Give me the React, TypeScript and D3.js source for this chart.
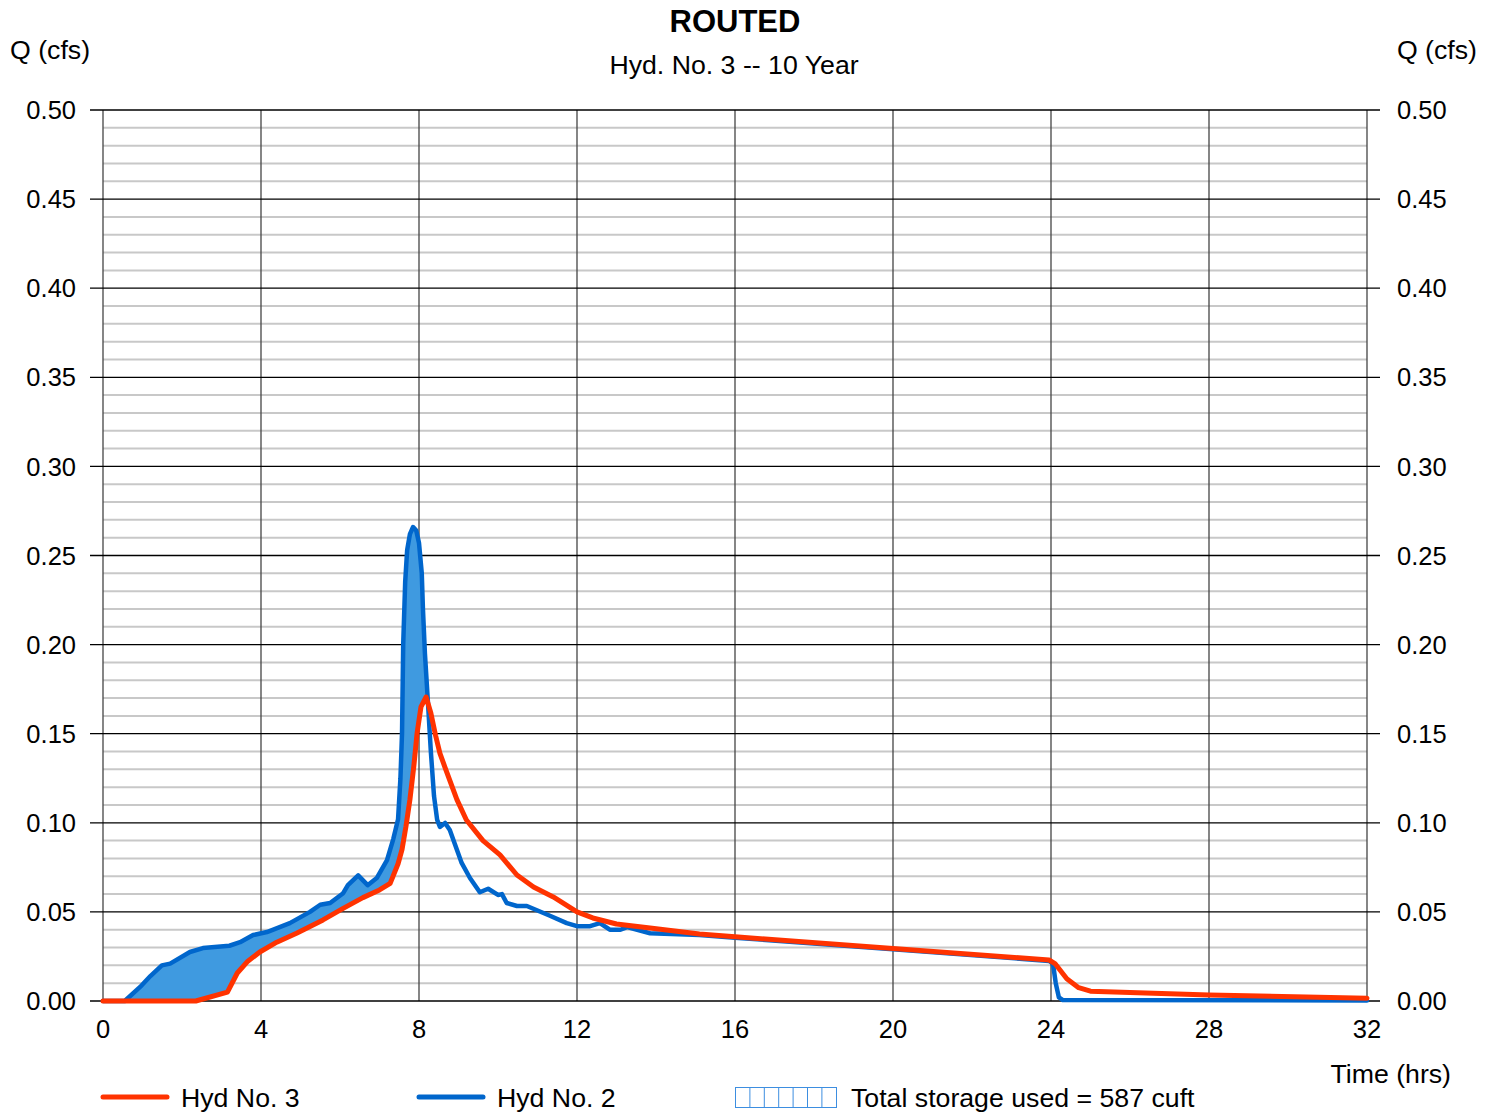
import React from "react";
import * as d3 from "d3";

// Hyd No. 2 (inflow) - time (hrs), Q (cfs)
const hyd2Time = [0, 0.55, 0.94, 1.2, 1.49, 1.7, 2.2, 2.53, 3.2, 3.47, 3.8, 4.15, 4.73, 5.24, 5.5, 5.75, 6.08, 6.2, 6.46, 6.7, 6.93, 7.19, 7.35, 7.47, 7.53, 7.57, 7.6, 7.65, 7.7, 7.77, 7.85, 7.93, 8.0, 8.07, 8.1, 8.15, 8.22, 8.3, 8.38, 8.46, 8.53, 8.66, 8.78, 9.08, 9.29, 9.54, 9.75, 10.0, 10.1, 10.22, 10.48, 10.73, 11.3, 11.74, 12.0, 12.33, 12.58, 12.83, 13.1, 13.27, 13.85, 15.1, 16, 20, 23.95, 24.05, 24.12, 24.2, 24.3, 32];
const hyd2Q = [0, 0, 0.0079, 0.014, 0.02, 0.021, 0.0275, 0.0297, 0.031, 0.033, 0.037, 0.0387, 0.0437, 0.05, 0.054, 0.055, 0.0605, 0.065, 0.0705, 0.065, 0.069, 0.079, 0.091, 0.102, 0.125, 0.15, 0.2, 0.235, 0.253, 0.262, 0.266, 0.264, 0.257, 0.24, 0.22, 0.195, 0.17, 0.14, 0.115, 0.1016, 0.0977, 0.0999, 0.096, 0.0775, 0.069, 0.061, 0.063, 0.0595, 0.06, 0.055, 0.0533, 0.0533, 0.048, 0.0437, 0.042, 0.042, 0.0437, 0.04, 0.04, 0.0415, 0.038, 0.037, 0.0355, 0.029, 0.0225, 0.021, 0.01, 0.002, 0.0005, 0.0003];

// Hyd No. 3 (routed outflow)
const hyd3Time = [0, 2.35, 3.15, 3.4, 3.65, 3.97, 4.4, 4.9, 5.57, 6.08, 6.58, 7.0, 7.27, 7.47, 7.57, 7.67, 7.77, 7.87, 7.95, 8.05, 8.18, 8.3, 8.42, 8.53, 8.66, 8.96, 9.2, 9.62, 10.05, 10.48, 10.9, 11.4, 12.0, 12.4, 13.0, 13.85, 15.1, 16, 20, 23.95, 24.1, 24.4, 24.7, 25.0, 28, 32];
const hyd3Q = [0, 0, 0.005, 0.0157, 0.022, 0.0275, 0.033, 0.038, 0.0455, 0.052, 0.058, 0.0623, 0.066, 0.077, 0.085, 0.098, 0.113, 0.132, 0.15, 0.165, 0.1706, 0.1616, 0.149, 0.139, 0.131, 0.113, 0.1016, 0.09, 0.082, 0.0707, 0.064, 0.0584, 0.05, 0.0466, 0.0432, 0.041, 0.0376, 0.036, 0.0295, 0.023, 0.021, 0.0125, 0.0075, 0.0055, 0.0034, 0.0016];

const xTicks = [0, 4, 8, 12, 16, 20, 24, 28, 32];
const yTicks = [0, 0.05, 0.1, 0.15, 0.2, 0.25, 0.3, 0.35, 0.4, 0.45, 0.5];
const minorStep = 0.01;

const W = 1496, H = 1112;
const FONT = "'Liberation Sans', Arial, sans-serif";

function interp(ts: number[], qs: number[], t: number) {
  if (t <= ts[0]) return qs[0];
  for (let i = 1; i < ts.length; i++) {
    if (t <= ts[i]) {
      const f = (t - ts[i - 1]) / (ts[i] - ts[i - 1]);
      return qs[i - 1] + f * (qs[i] - qs[i - 1]);
    }
  }
  return qs[qs.length - 1];
}

export default function App() {
  const x = d3.scaleLinear().domain([0, 32]).range([103, 1367]);
  const y = d3.scaleLinear().domain([0, 0.5]).range([1001, 110]);

  const hyd2 = hyd2Time.map((t, i) => [t, hyd2Q[i]] as [number, number]);
  const hyd3 = hyd3Time.map((t, i) => [t, hyd3Q[i]] as [number, number]);

  const line = d3.line<[number, number]>().x(d => x(d[0])).y(d => y(d[1]));

  // storage: region where inflow exceeds outflow
  const allT = Array.from(new Set([...hyd2Time, ...hyd3Time])).sort((a, b) => a - b).filter(t => t <= 12);
  const storage = allT.map(t => {
    const a = interp(hyd2Time, hyd2Q, t);
    const b = interp(hyd3Time, hyd3Q, t);
    return { t, hi: a, lo: Math.min(a, b) };
  });
  const area = d3.area<{ t: number; hi: number; lo: number }>()
    .x(d => x(d.t)).y0(d => y(d.lo)).y1(d => y(d.hi));

  const minor = d3.range(0, 0.5 + 1e-9, minorStep).filter(v => Math.abs(Math.round(v * 20) - v * 20) > 1e-6);

  return (
    <svg width={W} height={H} style={{ position: "absolute", left: 0, top: 0, background: "#fff" }} fontFamily={FONT}>
      {/* minor horizontal grid */}
      {minor.map(v => (
        <line key={"m" + v} x1={103} x2={1367} y1={y(v)} y2={y(v)} stroke="#c8c8c8" strokeWidth={2} />
      ))}
      {/* vertical grid */}
      {xTicks.map(t => (
        <line key={"v" + t} x1={x(t)} x2={x(t)} y1={110} y2={1001} stroke="#444" strokeWidth={1.3} />
      ))}
      {/* major horizontal grid */}
      {yTicks.map(v => (
        <line key={"h" + v} x1={90} x2={1380} y1={y(v)} y2={y(v)} stroke="#000" strokeWidth={1.3} />
      ))}

      <path d={area(storage) || ""} fill="#3f9ae0" />
      <path d={line(hyd2) || ""} fill="none" stroke="#0066cc" strokeWidth={4.5} strokeLinejoin="round" strokeLinecap="round" />
      <path d={line(hyd3) || ""} fill="none" stroke="#ff3300" strokeWidth={5} strokeLinejoin="round" strokeLinecap="round" />

      {/* y labels */}
      {yTicks.map(v => (
        <g key={"yl" + v} fontSize={25.5} fill="#000">
          <text x={76} y={y(v)} dy="0.36em" textAnchor="end">{v.toFixed(2)}</text>
          <text x={1397} y={y(v)} dy="0.36em" textAnchor="start">{v.toFixed(2)}</text>
        </g>
      ))}
      {/* x labels */}
      {xTicks.map(t => (
        <text key={"xl" + t} x={x(t)} y={1038} fontSize={25.5} textAnchor="middle">{t}</text>
      ))}

      <text x={735} y={32} fontSize={31} fontWeight="bold" textAnchor="middle">ROUTED</text>
      <text x={734} y={74} fontSize={26.7} textAnchor="middle">Hyd. No. 3 -- 10 Year</text>
      <text x={10} y={59} fontSize={26.7}>Q (cfs)</text>
      <text x={1477} y={59} fontSize={26.7} textAnchor="end">Q (cfs)</text>
      <text x={1451} y={1083} fontSize={26.7} textAnchor="end">Time (hrs)</text>

      {/* legend */}
      <line x1={103} x2={167} y1={1097} y2={1097} stroke="#ff3300" strokeWidth={5} strokeLinecap="round" />
      <text x={181} y={1107} fontSize={26.7}>Hyd No. 3</text>
      <line x1={419} x2={483} y1={1097} y2={1097} stroke="#0066cc" strokeWidth={5} strokeLinecap="round" />
      <text x={497} y={1107} fontSize={26.7}>Hyd No. 2</text>
      <rect x={735.5} y={1087.5} width={101} height={20} fill="none" stroke="#3d8ee0" strokeWidth={1} />
      {d3.range(1, 7).map(i => (
        <line key={"hb" + i} x1={735.5 + i * 14.4} x2={735.5 + i * 14.4} y1={1087.5} y2={1107.5} stroke="#3d8ee0" strokeWidth={1} />
      ))}
      <text x={851} y={1107} fontSize={26.7}>Total storage used = 587 cuft</text>
    </svg>
  );
}
